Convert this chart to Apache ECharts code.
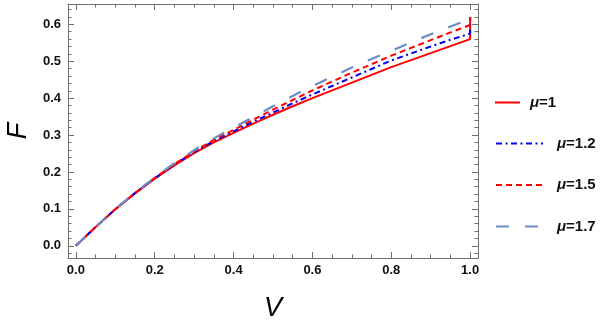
<!DOCTYPE html>
<html>
<head>
<meta charset="utf-8">
<script src="https://cdn.jsdelivr.net/npm/echarts@6/dist/echarts.min.js"></script>
<style>html,body{margin:0;padding:0;background:#fff;}#c{width:608px;height:323px;}</style>
</head>
<body>
<div id="c"></div>
<script>
// v values (x axis)
const vValues = [0, 0.05, 0.1, 0.15, 0.2, 0.25, 0.3, 0.35, 0.4, 0.45, 0.5, 0.55, 0.6, 0.65, 0.7, 0.75, 0.8, 0.85, 0.9, 0.95, 1.0];
// F values per mu
const F_mu1   = [0, 0.051, 0.099, 0.142, 0.182, 0.218, 0.251, 0.280, 0.306, 0.331, 0.355, 0.378, 0.400, 0.421, 0.442, 0.463, 0.484, 0.503, 0.522, 0.541, 0.560];
const F_mu12  = [0, 0.051, 0.099, 0.143, 0.183, 0.220, 0.254, 0.284, 0.310, 0.336, 0.361, 0.386, 0.410, 0.433, 0.456, 0.479, 0.502, 0.521, 0.540, 0.558, 0.575];
const F_mu15  = [0, 0.051, 0.099, 0.143, 0.184, 0.221, 0.256, 0.287, 0.314, 0.342, 0.369, 0.395, 0.421, 0.445, 0.469, 0.492, 0.515, 0.536, 0.557, 0.578, 0.598];
const F_mu17  = [0, 0.051, 0.100, 0.144, 0.185, 0.224, 0.259, 0.291, 0.320, 0.349, 0.378, 0.406, 0.433, 0.458, 0.483, 0.506, 0.528, 0.551, 0.573, 0.594, 0.614];
// value each curve jumps to at v = 1
const endV = 1.0;
const endF = 0.62;
const seriesNames = ['μ=1', 'μ=1.2', 'μ=1.5', 'μ=1.7'];
// tick labels
const xMajor = [0, 0.2, 0.4, 0.6, 0.8, 1.0];
const xMinor = [0, 0.05, 0.1, 0.15, 0.2, 0.25, 0.3, 0.35, 0.4, 0.45, 0.5, 0.55, 0.6, 0.65, 0.7, 0.75, 0.8, 0.85, 0.9, 0.95, 1.0];
const yMajor = [0, 0.1, 0.2, 0.3, 0.4, 0.5, 0.6];
const yMinor = [-0.02, 0, 0.02, 0.04, 0.06, 0.08, 0.1, 0.12, 0.14, 0.16, 0.18, 0.2, 0.22, 0.24, 0.26, 0.28, 0.3, 0.32, 0.34, 0.36, 0.38, 0.4, 0.42, 0.44, 0.46, 0.48, 0.5, 0.52, 0.54, 0.56, 0.58, 0.6, 0.62, 0.64];

function pts(arr) {
  const d = vValues.map((v, i) => [v, arr[i]]);
  d.push([endV, endF]);
  return d;
}

const frameColor = '#707070';
const X_MIN = -0.02, X_MAX = 1.02, Y_MIN = -0.033, Y_MAX = 0.655;
const labelStyle = { color: '#111', fontFamily: 'Liberation Sans, Arial', fontWeight: 'bold', fontSize: 13 };

function xAx(pos, major, showLine, showLabel, extra) {
  return Object.assign({
    type: 'value', position: pos, min: X_MIN, max: X_MAX,
    axisLine: { show: showLine, onZero: false, lineStyle: { color: frameColor, width: 1 } },
    axisTick: { show: true, inside: true, length: major ? 6 : 3.5, customValues: major ? xMajor : xMinor, lineStyle: { color: frameColor } },
    axisLabel: Object.assign({ show: showLabel, margin: 6, customValues: xMajor, formatter: v => v.toFixed(1) }, labelStyle),
    splitLine: { show: false }
  }, extra || {});
}
function yAx(pos, major, showLine, showLabel, extra) {
  return Object.assign({
    type: 'value', position: pos, min: Y_MIN, max: Y_MAX,
    axisLine: { show: showLine, onZero: false, lineStyle: { color: frameColor, width: 1 } },
    axisTick: { show: true, inside: true, length: major ? 6 : 3.5, customValues: major ? yMajor : yMinor, lineStyle: { color: frameColor } },
    axisLabel: Object.assign({ show: showLabel, margin: 7, customValues: yMajor, formatter: v => v.toFixed(1) }, labelStyle),
    splitLine: { show: false }
  }, extra || {});
}

const nameStyle = { fontFamily: 'Liberation Sans, Arial', fontStyle: 'italic', fontSize: 27, color: '#000' };

const chart = echarts.init(document.getElementById('c'), null, { renderer: 'canvas' });
const rich = {
  i: { fontFamily: 'Liberation Sans, Arial', fontStyle: 'italic', fontWeight: 'bold', fontSize: 15, color: '#111' },
  b: { fontFamily: 'Liberation Sans, Arial', fontWeight: 'bold', fontSize: 15, color: '#111' }
};
const fmt = name => '{i|μ}{b|' + name.slice(1) + '}';
const hiddenSymbol = { color: 'transparent', borderColor: 'transparent', borderWidth: 0, opacity: 0 };

chart.setOption({
  animation: false,
  grid: { left: 68, right: 130, top: 4, bottom: 65, containLabel: false, outerBoundsMode: 'none' },
  xAxis: [
    xAx('bottom', true, true, true, { name: 'V', nameLocation: 'middle', nameGap: 37, nameTextStyle: nameStyle }),
    xAx('bottom', false, false, false),
    xAx('top', true, true, false),
    xAx('top', false, false, false)
  ],
  yAxis: [
    yAx('left', true, true, true, { name: 'F', nameLocation: 'middle', nameGap: 30, nameTextStyle: nameStyle }),
    yAx('left', false, false, false),
    yAx('right', true, true, false),
    yAx('right', false, false, false)
  ],
  legend: [
    {
      id: 'lg1',
      data: [seriesNames[0]], orient: 'vertical', left: 494, top: 95, padding: 0,
      itemWidth: 25, itemHeight: 14, itemStyle: hiddenSymbol,
      formatter: fmt, textStyle: { padding: [0, 0, 0, 5], rich: rich }
    },
    {
      id: 'lg2',
      data: seriesNames.slice(1), orient: 'vertical', left: 495, top: 136, padding: 0,
      itemWidth: 47, itemHeight: 14, itemGap: 26.5, itemStyle: hiddenSymbol,
      formatter: fmt, textStyle: { padding: [0, 0, 0, 9], rich: rich }
    }
  ],
  series: [
    { name: seriesNames[0], type: 'line', data: pts(F_mu1), symbol: 'none', lineStyle: { color: '#ff0000', width: 2, type: 'solid' }, itemStyle: { color: '#ff0000' } },
    { name: seriesNames[1], type: 'line', data: pts(F_mu12), symbol: 'none', lineStyle: { color: '#0000ee', width: 2, type: [6, 3.5, 2, 3.5] }, itemStyle: { color: '#0000ee' } },
    { name: seriesNames[2], type: 'line', data: pts(F_mu15), symbol: 'none', lineStyle: { color: '#ff0000', width: 2, type: [6, 4] }, itemStyle: { color: '#ff0000' } },
    { name: seriesNames[3], type: 'line', data: pts(F_mu17), symbol: 'none', lineStyle: { color: '#6b8cc7', width: 2.2, type: [13, 16] }, itemStyle: { color: '#6b8cc7' } }
  ]
});
</script>
</body>
</html>
